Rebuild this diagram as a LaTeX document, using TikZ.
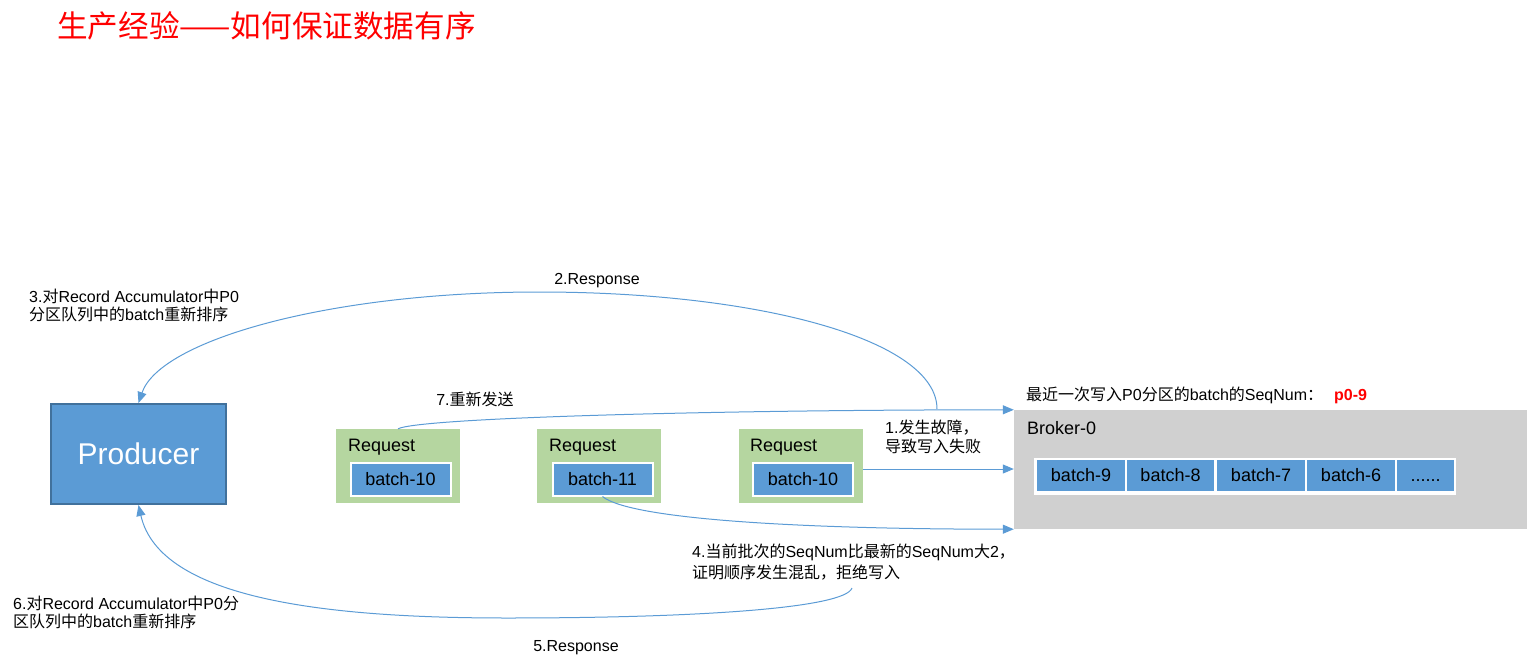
\documentclass[tikz,border=0pt]{standalone}
\usepackage{fontspec}
\setmainfont{Liberation Sans}
\newfontfamily\cjk{Noto Sans CJK SC}
\usetikzlibrary{arrows.meta}
\definecolor{pblue}{HTML}{5B9BD5}
\definecolor{pborder}{HTML}{41719C}
\definecolor{rgreen}{HTML}{B5D6A0}
\definecolor{bgray}{HTML}{D0D0D0}
\newcommand\cn[1]{{\cjk #1}}
\tikzset{
  prod/.style={rectangle, fill=pblue, draw=pborder, line width=2pt, minimum width=175pt, minimum height=100pt, inner sep=0pt, text=white, font=\fontsize{30}{36}\selectfont},
  req/.style={rectangle, fill=rgreen, minimum width=124pt, minimum height=74pt, inner sep=0pt},
  reqtext/.style={anchor=west, inner sep=0pt, font=\fontsize{18}{22}\selectfont},
  batchbox/.style={rectangle, fill=pblue, draw=white, line width=2pt, minimum width=100pt, minimum height=33pt, inner sep=0pt, text height=14pt, text depth=2pt, font=\fontsize{18}{22}\selectfont},
  brok/.style={rectangle, fill=bgray, minimum width=513pt, minimum height=119pt, inner sep=0pt},
  rowframe/.style={rectangle, fill=white, minimum width=422pt, minimum height=37pt, inner sep=0pt},
  cell/.style={rectangle, fill=pblue, minimum height=31pt, inner sep=0pt, text height=14pt, text depth=2pt, font=\fontsize{18}{22}\selectfont},
  lbl/.style={inner sep=0pt, align=left, font=\fontsize{16}{18}\selectfont},
  arr/.style={draw=pblue, line width=1pt, -{Triangle[length=11pt,width=9pt]}},
}
\begin{document}
\begin{tikzpicture}[x=1pt,y=-1pt]
\useasboundingbox (0,0) rectangle (1527,664);
% title
\node[anchor=west, inner sep=0pt, text=red, font=\fontsize{30.6}{36}\selectfont] (title) at (57,26) {\cn{生产经验——如何保证数据有序}};
% producer
\node[prod] (producer) at (138.5,454) {Producer};
% requests
\node[req] (r1) at (398,466) {};
\node[req] (r2) at (599,466) {};
\node[req] (r3) at (800.5,466) {};
\node[reqtext] (r1t) at (348,447.5) {Request};
\node[reqtext] (r2t) at (549,447.5) {Request};
\node[reqtext] (r3t) at (750,447.5) {Request};
\node[batchbox] (b1) at (400.5,479) {batch-10};
\node[batchbox] (b2) at (602.5,479) {batch-11};
\node[batchbox] (b3) at (803,479) {batch-10};
% broker
\node[brok] (broker) at (1270.5,469.5) {};
\node[anchor=west, inner sep=0pt, font=\fontsize{18}{22}\selectfont] (brokt) at (1027,428) {Broker-0};
\node[rowframe] (row) at (1245,476.5) {};
\node[cell, minimum width=88pt] (c9) at (1081,475.5) {batch-9};
\node[cell, minimum width=87pt] (c8) at (1170.5,475.5) {batch-8};
\node[cell, minimum width=88pt] (c7) at (1261,475.5) {batch-7};
\node[cell, minimum width=88pt] (c6) at (1351,475.5) {batch-6};
\node[cell, minimum width=57pt] (cd) at (1425.5,475.5) {......};
\node[lbl, anchor=west] (seq) at (1026,395) {\cn{最近一次写入}P0\cn{分区的}batch\cn{的}SeqNum\cn{：}\hspace{11pt}\textcolor{red}{\bfseries p0-9}};
% labels
\node[lbl, anchor=west] (l3) at (29,305) {3.\cn{对}Record Accumulator\cn{中}P0\\\cn{分区队列中的}batch\cn{重新排序}};
\node[lbl] (l2) at (597,281) {2.Response};
\node[lbl] (l7) at (475,399) {7.\cn{重新发送}};
\node[lbl, anchor=west, font=\fontsize{16}{19}\selectfont] (l1) at (885,437) {1.\cn{发生故障，}\\\cn{导致写入失败}};
\node[lbl, anchor=west, font=\fontsize{16}{21}\selectfont] (l4) at (692,562) {4.\cn{当前批次的}SeqNum\cn{比最新的}SeqNum\cn{大}2\cn{，}\\\cn{证明顺序发生混乱，拒绝写入}};
\node[lbl, anchor=west] (l6) at (13,612) {6.\cn{对}Record Accumulator\cn{中}P0\cn{分}\\\cn{区队列中的}batch\cn{重新排序}};
\node[lbl] (l5) at (576,648) {5.Response};
% connectors
\coordinate (resp2) at (937,409);
\coordinate (resp5) at (852,588);
\draw[arr] (r1.north) .. controls +(22,-11) and +(-300,0) .. (broker.north west);
\draw[arr] ([yshift=-3pt]r3.east) -- ([yshift=-3pt]r3.east -| broker.west);
\draw[arr] (b2.south) .. controls +(28,23) and +(-210,0) .. (broker.south west);
\draw[arr] (resp2) .. controls (937,340) and (760,292) .. (539,292) .. controls (330,292) and (160,340) .. (producer.north);
\draw[arr] (resp5) .. controls (845,608) and (700,618) .. (507,618) .. controls (330,618) and (160,600) .. (producer.south);
\end{tikzpicture}
\end{document}
